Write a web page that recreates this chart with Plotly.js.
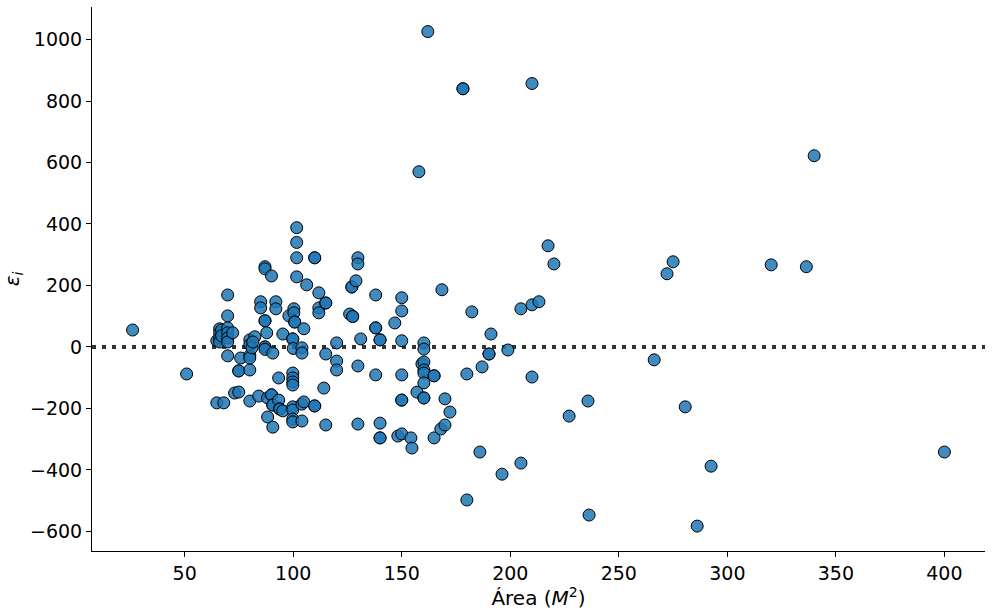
<!DOCTYPE html>
<html>
<head>
<meta charset="utf-8">
<script src="https://cdn.plot.ly/plotly-3.0.1.min.js"></script>
<style>html,body{margin:0;padding:0;background:#fff;}#chart{width:992px;height:612px;}</style>
</head>
<body>
<div id="chart"></div>
<script>
// Área (M^2)
const area = [
  26.0, 50.9,
  64.8, 66.1, 66.1, 66.1, 66.1, 67, 67,
  64.8, 68,
  69.8, 69.8, 69.8, 69.8, 69.8, 69.8, 72.1, 69.8,
  73, 74.9, 74.9, 74.9, 75.8,
  80, 80, 80, 80, 80, 81, 82.3, 81.4, 80,
  84.1, 85, 85, 87, 87, 87, 87, 87.8, 87, 87, 87, 90.6,
  88.2, 90, 90, 90.6, 90.6, 93.3, 88.2, 90.6, 90, 92, 92, 93.3,
  93.8, 93.8, 95.2, 95.2, 98, 99.8, 99.8, 100,
  99.8, 99.8, 99.8, 99.8, 99.8, 99.8, 99.8, 99.8,
  100.3, 100.3, 100.7, 100.7, 101.6, 101.6, 101.6, 101.6,
  104, 104, 104, 104.9, 104, 104.9, 106.2,
  109.9, 109.9, 109.9, 109.9, 111.8, 111.8, 111.8, 115, 115,
  114.1, 115, 115, 120, 120, 120,
  126, 127.4, 127.4, 127, 127, 128.9, 129.8, 129.8, 129.8, 129.8, 131.1,
  138, 138, 138, 138, 140, 140, 140, 140, 140,
  146.8, 148.2, 150, 150, 150, 150, 150, 150, 150,
  154.2, 154.7, 157, 157.9, 160.2, 160.2, 159.3, 160.2, 160.2, 160.2, 160.2, 160.2, 160.2,
  162, 164.9, 164.9, 164.9, 168.5, 168, 169.9, 169.9, 172.2,
  178.2, 178.2, 180, 180, 182.3, 186, 187, 190.2, 190.2, 191.1, 196.2, 198.9,
  204.9, 204.9, 210, 210, 210, 213.2, 217.4, 220.1, 227.1, 235.8, 236.3,
  266.3, 272.2, 275, 280.6, 286.1, 292.5, 320.2, 336.4, 340, 400
];
// residuals epsilon_i
const residual = [
  55, -88,
  20, 59, 46, 29, 16, 55, 36,
  -182, -182,
  169, 101, 62, 46, 29, 16, 46, -29,
  -150, -147, -78, -78, -36,
  -75, -28, -36, 23, 7, -3, 33, 16, -176,
  -160, 147, 127, 261, 254, 85, 85, 46, 0, 0, -8, -20,
  -166, -156, -156, -189, -189, -173, -228, -261, 231, 147, 124, -101,
  -202, -202, -208, 42, 101, 26, 26, -5,
  -85, -101, -114, -124, -195, -205, -235, -244,
  124, 111, 81, 81, 388, 340, 290, 228,
  -3, -20, -186, -179, -241, 59, 202,
  290, 290, -192, -192, 176, 127, 111, 143, 143,
  -134, -23, -254, 13, -46, -75,
  107, 99, 99, 195, 195, 215, 290, 270, -62, -251, 26,
  169, 62, 62, -91, 23, 23, -248, -296, -296,
  78, -290, -283, 160, 117, 20, -91, -173, -173,
  -296, -329, -147, 570, 13, -7, -55, -49, -75, -85, -117, -166, -166,
  1026, -94, -94, -296, 186, -267, -254, -169, -212,
  840, 840, -88, -498, 114, -342, -65, -23, -23, 42, -414, -10,
  -378, 124, 137, 857, -98, 147, 329, 270, -225, -176, -547,
  -42, 238, 277, -195, -583, -388, 267, 261, 622, -342
];
const xTicks = [50, 100, 150, 200, 250, 300, 350, 400];
const yTicks = [-600, -400, -200, 0, 200, 400, 600, 800, 1000];

const trace = {
  type: 'scatter',
  mode: 'markers',
  x: area,
  y: residual,
  marker: {
    color: 'rgba(31,119,180,0.85)',
    size: 12,
    line: {color: '#000000', width: 1}
  },
  hoverinfo: 'x+y'
};

const font = {family: 'DejaVu Sans, sans-serif', color: '#000', size: 19};

const layout = {
  width: 992,
  height: 612,
  margin: {l: 92, r: 7, t: 7, b: 61},
  paper_bgcolor: '#fff',
  plot_bgcolor: '#fff',
  showlegend: false,
  font: font,
  xaxis: {
    range: [7.3, 418.7],
    tickvals: xTicks,
    ticktext: xTicks.map(String),
    showgrid: false,
    zeroline: false,
    showline: true,
    linecolor: '#000',
    linewidth: 1,
    ticks: 'outside',
    ticklen: 5,
    tickcolor: '#000',
    tickfont: font,
    title: {text: 'Área (<i>M</i><sup>2</sup>)', font: {family: 'DejaVu Sans, sans-serif', size: 20, color: '#000'}, standoff: 5}
  },
  yaxis: {
    range: [-664, 1106],
    tickvals: yTicks,
    ticktext: yTicks.map(v => v < 0 ? '\u2212' + Math.abs(v) : String(v)),
    showgrid: false,
    zeroline: false,
    showline: true,
    linecolor: '#000',
    linewidth: 1,
    ticks: 'outside',
    ticklen: 5,
    tickcolor: '#000',
    tickfont: font,
    title: {text: '<i>ε<sub>i</sub></i>', font: {family: 'DejaVu Sans, sans-serif', size: 20, color: '#000'}, standoff: 10}
  },
  shapes: [{
    type: 'line',
    xref: 'paper', x0: 0, x1: 1,
    yref: 'y', y0: 0, y1: 0,
    line: {color: '#333', width: 4, dash: '4px,6px'},
    layer: 'below'
  }]
};

Plotly.newPlot('chart', [trace], layout, {staticPlot: true, displayModeBar: false});
</script>
</body>
</html>
